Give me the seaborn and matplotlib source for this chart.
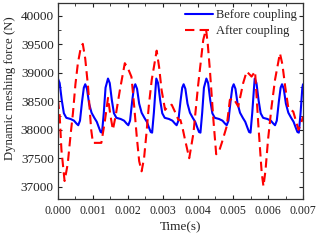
import numpy as np
import pandas as pd
import matplotlib
matplotlib.use("Agg")
import matplotlib.pyplot as plt
from matplotlib.ticker import MultipleLocator, FormatStrFormatter
import seaborn as sns

#%% DATOS
t_antes = [0.0, 0.00005, 0.00011, 0.00017, 0.00024, 0.00036, 0.00046, 0.00053, 0.00058, 0.00063, 0.00069, 0.00074,
           0.00078, 0.00083, 0.00089, 0.00096, 0.00104, 0.00111, 0.00117, 0.00122, 0.00126, 0.00131, 0.00136,
           0.00143, 0.00148, 0.00154, 0.00160, 0.00167, 0.00179, 0.00189, 0.00196, 0.00201, 0.00206, 0.00212, 0.00217,
           0.00221, 0.00226, 0.00232, 0.00239, 0.00247, 0.00254, 0.00260, 0.00265, 0.00269, 0.00274, 0.00279,
           0.00281, 0.00286, 0.00292, 0.00298, 0.00305, 0.00317, 0.00327, 0.00334, 0.00339, 0.00344, 0.00350, 0.00355,
           0.00359, 0.00364, 0.00370, 0.00377, 0.00385, 0.00392, 0.00398, 0.00403, 0.00407, 0.00412, 0.00417,
           0.00424, 0.00429, 0.00435, 0.00441, 0.00448, 0.00460, 0.00470, 0.00477, 0.00482, 0.00487, 0.00493, 0.00498,
           0.00502, 0.00507, 0.00513, 0.00520, 0.00528, 0.00535, 0.00541, 0.00546, 0.00550, 0.00555, 0.00560,
           0.00562, 0.00567, 0.00573, 0.00579, 0.00586, 0.00598, 0.00608, 0.00615, 0.00620, 0.00625, 0.00631, 0.00636,
           0.00640, 0.00645, 0.00651, 0.00658, 0.00666, 0.00673, 0.00679, 0.00684, 0.00688, 0.00693, 0.00698, 0.00700]
f_antes = [38900, 38820, 38520, 38290, 38210, 38190, 38160, 38110, 38080, 38160, 38500, 38740,
           38800, 38720, 38460, 38300, 38210, 38140, 38040, 37960, 37950, 38300, 38740,
           38900, 38820, 38520, 38290, 38210, 38190, 38160, 38110, 38080, 38160, 38500, 38740,
           38800, 38720, 38460, 38300, 38210, 38140, 38040, 37960, 37950, 38300, 38740,
           38900, 38820, 38520, 38290, 38210, 38190, 38160, 38110, 38080, 38160, 38500, 38740,
           38800, 38720, 38460, 38300, 38210, 38140, 38040, 37960, 37950, 38300, 38740,
           38900, 38820, 38520, 38290, 38210, 38190, 38160, 38110, 38080, 38160, 38500, 38740,
           38800, 38720, 38460, 38300, 38210, 38140, 38040, 37960, 37950, 38300, 38740,
           38900, 38820, 38520, 38290, 38210, 38190, 38160, 38110, 38080, 38160, 38500, 38740,
           38800, 38720, 38460, 38300, 38210, 38140, 38040, 37960, 37950, 38300, 38740, 38800]

t_despues = [0.0, 0.00005, 0.0001, 0.00019, 0.00028, 0.00036, 0.00043, 0.00050, 0.00057, 0.00064, 0.00071,
             0.00078, 0.00086, 0.00095, 0.00100, 0.00124, 0.00134, 0.00143, 0.00150, 0.00157, 0.00165,
             0.00177, 0.00191, 0.00200, 0.00210, 0.00218, 0.00225, 0.00232, 0.00239, 0.00246, 0.00253,
             0.00260, 0.00268, 0.00282, 0.00289, 0.00296, 0.00306, 0.00316, 0.00325, 0.00334, 0.00344,
             0.00350, 0.00357, 0.00363, 0.00375, 0.00387, 0.00400, 0.00415, 0.00423, 0.00428, 0.00434,
             0.00444, 0.00452, 0.00460, 0.00468, 0.00482, 0.00491, 0.00501, 0.00515, 0.00529, 0.00539,
             0.00553, 0.00563, 0.00572, 0.00582, 0.00587, 0.00593, 0.00600, 0.00610, 0.00620, 0.00634,
             0.00641, 0.00649, 0.00658, 0.00672, 0.00680, 0.00687, 0.00694, 0.00700]
f_despues = [38530, 38250, 37650, 37100, 37400, 37900, 38300, 38800, 39170, 39400, 39510,
             39250, 38760, 38000, 37770, 37770, 38150, 38560, 38250, 38000, 38250,
             38700, 39170, 39080, 38930, 38400, 37890, 37450, 37270, 37500, 37950,
             38450, 38880, 39390, 39100, 38700, 38350, 38420, 38440, 38320, 38175,
             38170, 38000, 37825, 37500, 37940, 38760, 39580, 39770, 39500, 39050,
             38175, 37570, 37620, 37770, 38060, 38525, 38555, 38410, 38820, 39025,
             38935, 39025, 38117, 37240, 37005, 37300, 37825, 38400, 38880, 39345,
             39150, 38760, 38380, 38320, 38150, 38000, 38100, 38233]

df_antes = pd.DataFrame({'tiempo': t_antes, 'fuerza': f_antes})
df_despues = pd.DataFrame({'tiempo': t_despues, 'fuerza': f_despues})

#%% GRAFICO
sns.set_style("ticks")
plt.rcParams['font.family'] = ['Liberation Serif', 'DejaVu Serif']

fig = plt.figure(figsize=(3.2, 2.4), dpi=100)
ax = fig.add_axes([0.181, 0.17, 0.766, 0.818])

sns.lineplot(data=df_antes, x='tiempo', y='fuerza', sort=False, estimator=None,
             color='#0000ff', linewidth=1.5, label='Before coupling', ax=ax)
sns.lineplot(data=df_despues, x='tiempo', y='fuerza', sort=False, estimator=None,
             color='#ff0000', linewidth=1.5, label='After coupling', ax=ax)
ax.lines[-1].set_dashes((4.5, 2.5))

ax.set_xlim(0, 0.007)
ax.set_ylim(36780, 40230)
ax.xaxis.set_major_locator(MultipleLocator(0.001))
ax.xaxis.set_minor_locator(MultipleLocator(0.0005))
ax.xaxis.set_major_formatter(FormatStrFormatter('%.3f'))
ax.yaxis.set_major_locator(MultipleLocator(500))
ax.yaxis.set_minor_locator(MultipleLocator(250))
ax.tick_params(which='both', direction='in', top=True, right=True, colors='#222222')
ax.tick_params(axis='x', labelsize=8.5, pad=4)
ax.tick_params(axis='y', labelsize=9.5, pad=3)
ax.tick_params(which='major', length=3, width=0.8)
ax.tick_params(which='minor', length=2, width=0.6)
for s in ax.spines.values():
    s.set_color('#333333')
    s.set_linewidth(0.9)

ax.set_xlabel('Time(s)', fontsize=9.5, labelpad=3)
ax.set_ylabel('Dynamic meshing force (N)', fontsize=9.2)
ax.yaxis.set_label_coords(-0.17, 0.565)

leg = ax.legend(loc='upper right', frameon=False, fontsize=9, handlelength=2.3,
                handletextpad=0.2, labelspacing=0.3, borderaxespad=0.1)

fig.savefig('out.png', dpi=100)
